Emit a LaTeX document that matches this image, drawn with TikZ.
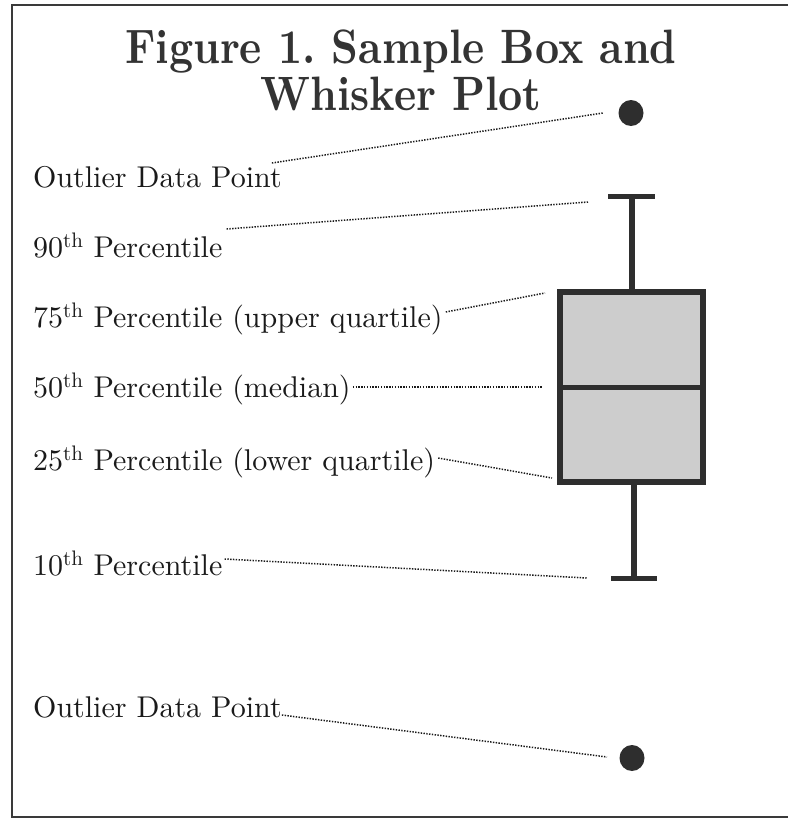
\documentclass[tikz,border=0pt]{standalone}
\usepackage{fontspec}
\setmainfont{lmroman10-regular.otf}[BoldFont=lmroman10-bold.otf]
\usetikzlibrary{calc,shapes.geometric}
\frenchspacing
\definecolor{ink}{HTML}{1A1A1A}
\definecolor{titleink}{HTML}{333333}
\definecolor{boxfill}{HTML}{CDCDCD}
\definecolor{boxline}{HTML}{2E2E2E}
\definecolor{frameline}{HTML}{3A3A3A}
\tikzset{
  lbl/.style={anchor=base west, inner sep=0pt, text=ink, font=\fontsize{30}{36}\selectfont},
  ttl/.style={anchor=base, inner sep=0pt, text=titleink, font=\fontsize{42}{47}\selectfont\bfseries},
  leader/.style={draw=ink, line width=1.5pt, dash pattern=on 1.4pt off 1.4pt},
  whisk/.style={draw=boxline, line width=6pt},
  capline/.style={draw=boxline, line width=5pt},
  dot/.style={ellipse, fill=boxline, inner sep=0pt, minimum width=25pt, minimum height=26pt},
  boxnode/.style={draw=boxline, line width=6pt, fill=boxfill, inner sep=0pt, minimum width=143pt, minimum height=190pt},
  frame/.style={draw=frameline, line width=1.6pt}
}
\begin{document}
\begin{tikzpicture}[x=1pt,y=-1pt]
\useasboundingbox (0,0) rectangle (788,820);
% frame
\coordinate (ftl) at (12,5);
\coordinate (ftr) at (788,5);
\coordinate (fbl) at (12,817);
\coordinate (fbr) at (788,817);
\draw[frame] (ftr) -- (ftl) -- (fbl) -- (fbr);
% title
\node[ttl] (t1) at (401,63) {\scalebox{1}[1.15]{Figure 1. Sample Box and}};
\node[ttl] (t2) at (401,110) {\scalebox{1}[1.15]{Whisker Plot}};
% labels
\node[lbl] (lo1) at (33,187) {Outlier Data Point};
\node[lbl] (l90) at (33,257) {90\textsuperscript{th} Percentile};
\node[lbl] (l75) at (33,327) {75\textsuperscript{th} Percentile (upper quartile)};
\node[lbl] (l50) at (33,397) {50\textsuperscript{th} Percentile (median)};
\node[lbl] (l25) at (33,470) {25\textsuperscript{th} Percentile (lower quartile)};
\node[lbl] (l10) at (33,575) {10\textsuperscript{th} Percentile};
\node[lbl] (lo2) at (33,717) {Outlier Data Point};
% plot
\node[boxnode] (box) at (631.5,387) {};
\draw[capline] (box.west) -- (box.east);
\coordinate (captop) at (632,196);
\coordinate (capbot) at (634,578);
\draw[whisk] (captop) -- (box.north -| captop);
\draw[whisk] (box.south -| capbot) -- (capbot);
\draw[capline] ($(captop)+(-24,0)$) -- ($(captop)+(23,0)$);
\draw[capline] ($(capbot)+(-23,0)$) -- ($(capbot)+(23,0)$);
\node[dot] (d1) at (631,113) {};
\node[dot] (d2) at (632,758) {};
% leader ends
\coordinate (e1) at (603,113);
\coordinate (e2) at (588,202);
\coordinate (e3) at (545,293);
\coordinate (e4) at (543,387);
\coordinate (e5) at (552,478);
\coordinate (e6) at (587,578);
\coordinate (e7) at (607,757);
\draw[leader] ($(lo1.base east)+(-10,-24)$) -- (e1);
\draw[leader] ($(l90.base east)+(4,-28)$) -- (e2);
\draw[leader] ($(l75.base east)+(3,-15)$) -- (e3);
\draw[leader] ($(l50.base east)+(2,-10)$) -- (e4);
\draw[leader] ($(l25.base east)+(3,-12)$) -- (e5);
\draw[leader] ($(l10.base east)+(2,-16)$) -- (e6);
\draw[leader] ($(lo2.base east)+(0,-2)$) -- (e7);
\end{tikzpicture}
\end{document}
